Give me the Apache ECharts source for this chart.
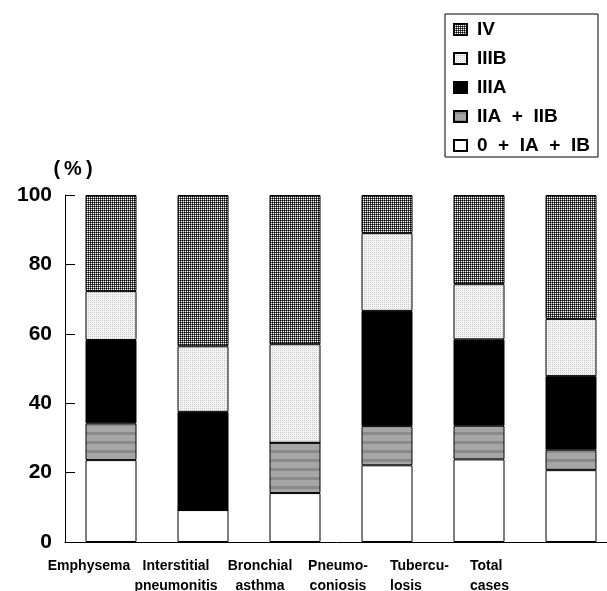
<!DOCTYPE html>
<html>
<head>
<meta charset="utf-8">
<script src="https://cdn.jsdelivr.net/npm/echarts@6/dist/echarts.min.js"></script>
<style>
html,body{margin:0;padding:0;background:#fff;}
#chart{width:607px;height:591px;}
</style>
</head>
<body>
<div id="chart"></div>
<script>
// ---- data ----
const categories = ['Emphysema', 'Interstitial\npneumonitis', 'Bronchial\nasthma', 'Pneumo-\nconiosis', 'Tubercu-\nlosis', 'Total\ncases'];
const seriesNames = ['0  +  IA  +  IB', 'IIA  +  IIB', 'IIIA', 'IIIB', 'IV'];
const stage0IAIB = [23.6, 9.2, 14.1, 22.1, 23.8, 20.7];
const stageIIAIIB = [10.6, 0, 14.5, 11.3, 9.7, 5.9];
const stageIIIA = [24.0, 28.3, 0, 33.2, 24.9, 21.2];
const stageIIIB = [14.1, 18.9, 28.4, 22.4, 15.9, 16.5];
const stageIV = [27.7, 43.6, 43.0, 11.0, 25.7, 35.7];
const yTicks = [0, 20, 40, 60, 80, 100];

// ---- layout/style (not data) ----
const labelShift = [-22, -27, -35, -49, -59, -71];
const labelLeftAligned = [false, false, false, false, true, true];

function pattern(w, h, draw) {
  const c = document.createElement('canvas');
  c.width = w; c.height = h;
  const ctx = c.getContext('2d');
  draw(ctx);
  return { image: c, repeat: 'repeat' };
}
const patIV = pattern(2, 2, ctx => {
  ctx.fillStyle = '#ffffff'; ctx.fillRect(0, 0, 2, 2);
  ctx.fillStyle = '#000000'; ctx.fillRect(0, 0, 1, 1);
  ctx.fillStyle = '#555555'; ctx.fillRect(1, 0, 1, 1); ctx.fillRect(0, 1, 1, 1);
});
const patIIIB = pattern(2, 2, ctx => {
  ctx.fillStyle = '#f4f4f4'; ctx.fillRect(0, 0, 2, 2);
  ctx.fillStyle = '#c8c8c8'; ctx.fillRect(0, 0, 1, 1);
});
const patII = pattern(4, 9, ctx => {
  ctx.fillStyle = '#a6a6a6'; ctx.fillRect(0, 0, 4, 9);
  ctx.fillStyle = '#8a8a8a'; ctx.fillRect(0, 0, 4, 3);
});
const fills = ['#ffffff', patII, '#000000', patIIIB, patIV];
const values = [stage0IAIB, stageIIAIIB, stageIIIA, stageIIIB, stageIV];

const chart = echarts.init(document.getElementById('chart'), null, { renderer: 'canvas' });
const font = 'Liberation Sans, Arial, Helvetica, sans-serif';

chart.setOption({
  animation: false,
  backgroundColor: '#ffffff',
  grid: { left: 65, top: 195, width: 552, height: 347, containLabel: false, outerBoundsMode: 'none' },
  legend: {
    orient: 'vertical',
    left: 445,
    top: 14,
    padding: [6, 8, 2, 8],
    borderColor: '#000',
    borderWidth: 1,
    itemGap: 10,
    itemWidth: 13,
    itemHeight: 11,
    icon: 'rect',
    selectedMode: false,
    data: ['IV', 'IIIB', 'IIIA', 'IIA  +  IIB', '0  +  IA  +  IB'],
    textStyle: { fontFamily: font, fontWeight: 'bold', fontSize: 19, color: '#000', padding: [0, 0, 0, 5] }
  },
  xAxis: {
    type: 'category',
    data: categories.map((c, i) => ({
      value: c,
      textStyle: { align: 'center', padding: [0, -2 * labelShift[i], 0, 0] }
    })),
    axisLine: { lineStyle: { color: '#000', width: 1 } },
    axisTick: { show: false },
    axisLabel: {
      interval: 0,
      hideOverlap: false,
      margin: 14,
      fontFamily: font,
      fontWeight: 'bold',
      fontSize: 14,
      lineHeight: 20,
      color: '#000',
      formatter: (v, i) => {
        if (!labelLeftAligned[i]) return v;
        return v.split('\n').map(l => '{l|' + l + '}').join('\n');
      },
      rich: { l: { fontFamily: font, fontWeight: 'bold', fontSize: 14, lineHeight: 20, color: '#000', width: 60, align: 'left' } }
    }
  },
  yAxis: {
    type: 'value',
    min: 0,
    max: 100,
    interval: 20,
    name: '(\u2009%\u2009)',
    nameGap: 16,
    nameTextStyle: { fontFamily: font, fontWeight: 'bold', fontSize: 20, color: '#000', align: 'center', padding: [0, 0, 0, 16] },
    axisLine: { show: true, lineStyle: { color: '#000', width: 1 } },
    axisTick: { show: true, inside: true, length: 10, lineStyle: { color: '#000' } },
    splitLine: { show: false },
    axisLabel: {
      margin: 13,
      fontFamily: font,
      fontWeight: 'bold',
      fontSize: 21,
      color: '#000',
      formatter: v => yTicks.includes(v) ? String(v) : ''
    }
  },
  series: seriesNames.map((name, k) => ({
    name: name,
    type: 'bar',
    stack: 'total',
    barWidth: 51,
    data: values[k],
    itemStyle: { color: fills[k], borderColor: '#000', borderWidth: 1 },
    emphasis: { disabled: true }
  }))
});
</script>
</body>
</html>
